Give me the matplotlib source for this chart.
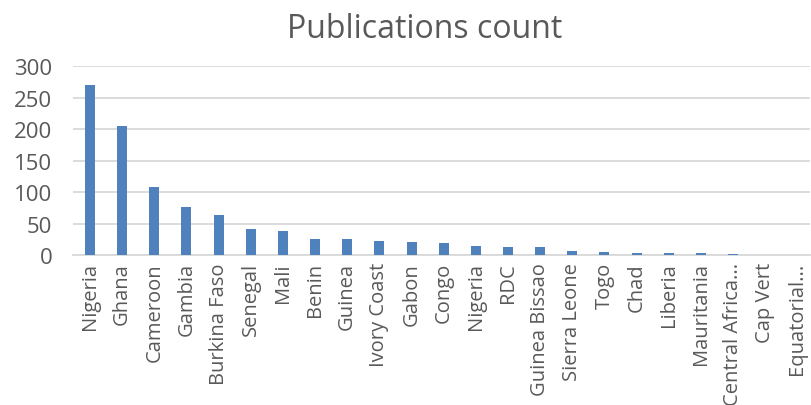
import matplotlib
matplotlib.use("Agg")
import matplotlib.pyplot as plt

# Données
pays = ["Nigeria", "Ghana", "Cameroon", "Gambia", "Burkina Faso", "Senegal",
        "Mali", "Benin", "Guinea", "Ivory Coast", "Gabon", "Congo", "Nigeria",
        "RDC", "Guinea Bissao", "Sierra Leone", "Togo", "Chad", "Liberia",
        "Mauritania", "Central Africa...", "Cap Vert", "Equatorial..."]
publications = [270, 205, 109, 76, 64, 42, 39, 25, 25, 22, 21, 20, 15,
                13, 13, 6, 5, 4, 4, 4, 2, 0, 0]
yticks = [0, 50, 100, 150, 200, 250, 300]

plt.rcParams['font.family'] = ['Open Sans', 'DejaVu Sans']

fig = plt.figure(figsize=(8.11, 4.06), dpi=100)
ax = fig.add_axes([0.09, 0.369, 0.909, 0.465])

x = list(range(len(pays)))
ax.bar(x, publications, width=0.31, color="#4F81BD", zorder=3)

ax.set_ylim(0, 300)
ax.set_xlim(-0.53, len(pays) - 0.6)
ax.set_yticks(yticks)
ax.set_xticks(x)
ax.set_xticklabels(pays, rotation=90, fontsize=14.5, color="#595959")
ax.tick_params(axis='y', labelsize=16, colors="#595959", length=0, pad=15)
ax.tick_params(axis='x', length=0, pad=5)

ax.grid(axis='y', color="#d9d9d9", linewidth=1.3, zorder=0)
for s in ["top", "right", "left"]:
    ax.spines[s].set_visible(False)
ax.spines["bottom"].set_color("#d9d9d9")
ax.spines["bottom"].set_linewidth(1.3)

fig.text(0.524, 0.928, "Publications count", ha="center", va="center",
         fontsize=23, color="#595959")

fig.savefig("out.png", dpi=100)
